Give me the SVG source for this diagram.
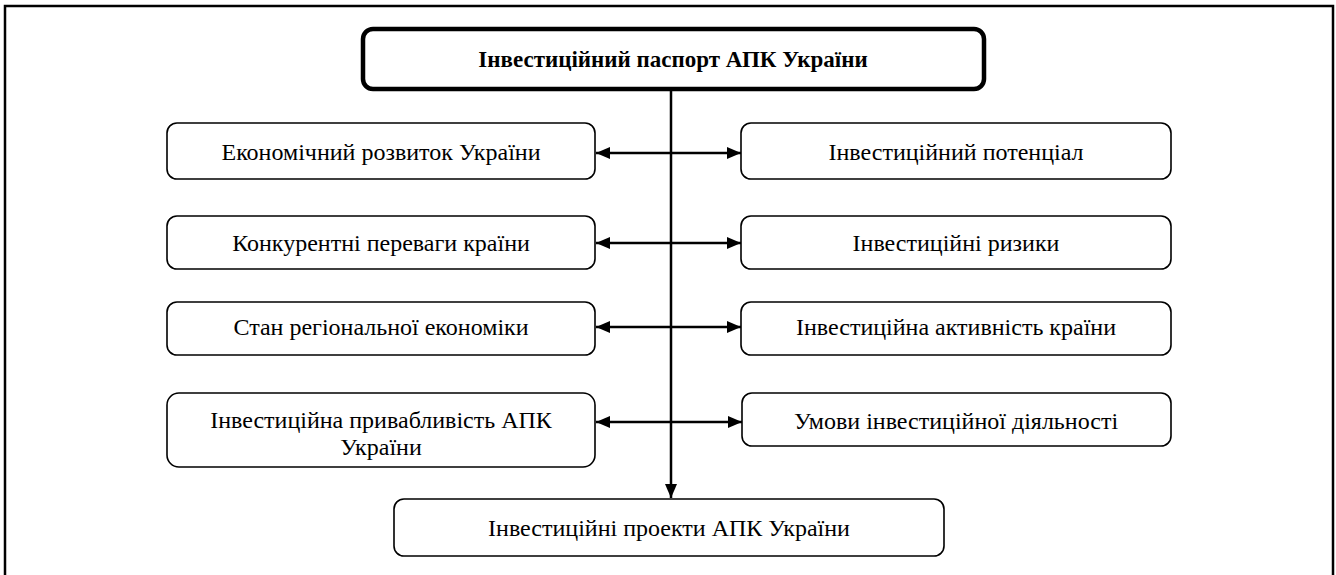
<svg xmlns="http://www.w3.org/2000/svg" width="1336" height="575" viewBox="0 0 1336 575">
<style>
.box{fill:#fff;stroke:#000;stroke-width:1.6}
.main{fill:#fff;stroke:#000;stroke-width:4.5}
.c{stroke:#000;stroke-width:2.5;fill:none}
</style>
<defs>
<marker id="ah" viewBox="0 0 14 12" refX="14" refY="6" markerWidth="14" markerHeight="12" markerUnits="userSpaceOnUse" orient="auto-start-reverse">
<path d="M0,0 L14,6 L0,12 z" fill="#000"/>
</marker>
</defs>
<rect x="5" y="6" width="1328" height="580" fill="none" stroke="#000" stroke-width="2.5"/>
<g id="connectors">
<line class="c" x1="671" y1="90" x2="671" y2="498" marker-end="url(#ah)"/>
<line class="c" x1="596" y1="153" x2="741" y2="153" marker-start="url(#ah)" marker-end="url(#ah)"/>
<line class="c" x1="596" y1="243" x2="741" y2="243" marker-start="url(#ah)" marker-end="url(#ah)"/>
<line class="c" x1="596" y1="327" x2="741" y2="327" marker-start="url(#ah)" marker-end="url(#ah)"/>
<line class="c" x1="596" y1="422" x2="742" y2="422" marker-start="url(#ah)" marker-end="url(#ah)"/>
</g>
<g font-family="Liberation Serif, Times New Roman, serif" font-size="24" text-anchor="middle" fill="#000">
<g id="n_main">
<rect class="main" x="363" y="29" width="621" height="60" rx="10"/>
<text x="673" y="67" font-weight="bold" font-size="23">Інвестиційний паспорт АПК України</text>
</g>
<g id="n_l1">
<rect class="box" x="167" y="123" width="428" height="56" rx="10"/>
<text x="381" y="160">Економічний розвиток України</text>
</g>
<g id="n_r1">
<rect class="box" x="741" y="123" width="430" height="56" rx="10"/>
<text x="956" y="160">Інвестиційний потенціал</text>
</g>
<g id="n_l2">
<rect class="box" x="167" y="216" width="428" height="53" rx="10"/>
<text x="381" y="251">Конкурентні переваги країни</text>
</g>
<g id="n_r2">
<rect class="box" x="741" y="216" width="430" height="53" rx="10"/>
<text x="956" y="251">Інвестиційні ризики</text>
</g>
<g id="n_l3">
<rect class="box" x="167" y="302" width="428" height="53" rx="10"/>
<text x="381" y="335">Стан регіональної економіки</text>
</g>
<g id="n_r3">
<rect class="box" x="741" y="302" width="430" height="53" rx="10"/>
<text x="956" y="335">Інвестиційна активність країни</text>
</g>
<g id="n_l4">
<rect class="box" x="167" y="393" width="428" height="74" rx="12"/>
<text x="381" y="428">Інвестиційна привабливість АПК</text>
<text x="381" y="455">України</text>
</g>
<g id="n_r4">
<rect class="box" x="742" y="393" width="429" height="53" rx="10"/>
<text x="956" y="429">Умови інвестиційної діяльності</text>
</g>
<g id="n_bottom">
<rect class="box" x="394" y="499" width="550" height="57" rx="10"/>
<text x="669" y="536">Інвестиційні проекти АПК України</text>
</g>
</g>
</svg>
